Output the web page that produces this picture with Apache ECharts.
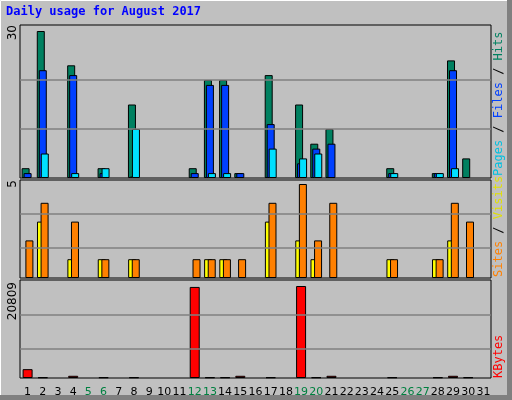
<!DOCTYPE html>
<html><head><meta charset="utf-8">
<script src="https://cdn.jsdelivr.net/npm/echarts@6/dist/echarts.min.js"></script>
<style>html,body{margin:0;padding:0;background:#c0c0c0}#c{width:512px;height:400px}</style>
</head><body><div id="c"></div>
<script>
const days = Array.from({length:31},(_,i)=>String(i+1));
const weekend = ['5','6','12','13','19','20','26','27'];
const hits  = [2,30,0,23,0,2,0,15,0,0,0,2,20,20,1,0,21,0,15,7,10,0,0,0,2,0,0,1,24,4,0];
const files = [1,22,0,21,0,1,0,0.3,0,0,0,1,19,19,1,0,11,0,3,6,7,0,0,0,1,0,0,1,22,0,0];
const pages = [0,5,0,1,0,2,0,10,0,0,0,0,1,1,0,0,6,0,4,5,0,0,0,0,1,0,0,1,2,0,0];
const sites = [0,3,0,1,0,1,0,1,0,0,0,0,1,1,0,0,3,0,2,1,0,0,0,0,1,0,0,1,2,0,0];
const visits= [2,4,0,3,0,1,0,1,0,0,0,1,1,1,1,0,4,0,5,2,4,0,0,0,1,0,0,1,4,3,0];
const kbytes= [2000,150,0,500,0,150,0,150,0,0,0,20600,150,150,500,0,150,0,20809,150,500,0,0,0,150,0,0,150,500,150,0];
const z = a => a.map(v => v > 0 ? v : '-');

const grids = [
  {left:20,width:471,top:25,height:153},
  {left:20,width:471,top:180,height:98},
  {left:20,width:471,top:280,height:98}
].map(g=>Object.assign(g,{show:true,backgroundColor:'#c0c0c0',borderColor:'#000',borderWidth:1}));
const xAx = [0,1,2].map(i=>({type:'category',gridIndex:i,data:days,
  axisLine:{show:false},axisTick:{show:false},
  axisLabel:{show:i===2,interval:0,margin:9,fontSize:11,fontFamily:'DejaVu Sans',
    color:(v)=>weekend.includes(v)?'#008040':'#000'}}));
const yAx = [
  {max:30*153/147},{max:5*98/94},{max:20809*98/92}
].map((o,i)=>({type:'value',gridIndex:i,min:0,max:o.max,show:false,splitLine:{show:false}}));
const ml = vals => ({silent:true,symbol:'none',label:{show:false},
  lineStyle:{color:'#808080',type:'solid',width:1.5},data:vals.map(v=>({yAxis:v}))});
const bar = (name,data,color,xi,w,gap,extra)=>Object.assign({type:'bar',name,data:z(data),xAxisIndex:xi,yAxisIndex:xi,
  barWidth:w,barGap:gap,itemStyle:{color,borderColor:'#000',borderWidth:1},animation:false},extra||{});
const series = [
  bar('Hits',hits,'#008060',0,8,'-75%',{markLine:ml([10,20])}),
  bar('Files',files,'#0040ff',0,8,'-75%'),
  bar('Pages',pages,'#00e0ff',0,8,'-75%'),
  bar('Sites',sites,'#ffff00',1,8,'-55%',{markLine:ml([1.6,3.4])}),
  bar('Visits',visits,'#ff8000',1,8,'-55%'),
  bar('KBytes',kbytes,'#ff0000',2,10,'0%',{markLine:ml([6560,14250])})
];
const vt = (x,y,text,extra)=>({type:'text',x,y,rotation:Math.PI/2,style:Object.assign({text,font:'12px DejaVu Sans',fill:'#000',align:'right',verticalAlign:'middle'},extra||{})});
const rt = (x,y,parts)=>({type:'text',x,y,rotation:Math.PI/2,style:{
  text:parts.map((p,i)=>'{s'+i+'|'+p[0]+'}').join(''),
  rich:Object.fromEntries(parts.map((p,i)=>['s'+i,{fill:p[1],font:'12px DejaVu Sans Mono'}])),
  align:'left',verticalAlign:'middle'}});
const chart = echarts.init(document.getElementById('c'));
chart.setOption({
  backgroundColor:'#c0c0c0',animation:false,
  grid:grids,xAxis:xAx,yAxis:yAx,series,
  graphic:[
    {type:'rect',shape:{x:0.5,y:0.5,width:509,height:396},style:{fill:'none',stroke:'#fff',lineWidth:1}},
    {type:'rect',shape:{x:507,y:0,width:5,height:400},style:{fill:'#808080'}},
    {type:'rect',shape:{x:0,y:395,width:512,height:5},style:{fill:'#808080'}},
    {type:'text',x:6,y:6,style:{text:'Daily usage for August 2017',font:'bold 12px DejaVu Sans Mono',fill:'#0000ff'}},
    vt(13,25,'30'),vt(13,180,'5'),vt(13,282,'20809'),
    rt(499,176,[['Pages','#00c0e0'],[' / ','#000'],['Files','#0040ff'],[' / ','#000'],['Hits','#008060']]),
    rt(499,277,[['Sites','#ff8000'],[' / ','#000'],['Visits','#e0e000']]),
    rt(499,378,[['KBytes','#ff0000']])
  ]
});
</script></body></html>
